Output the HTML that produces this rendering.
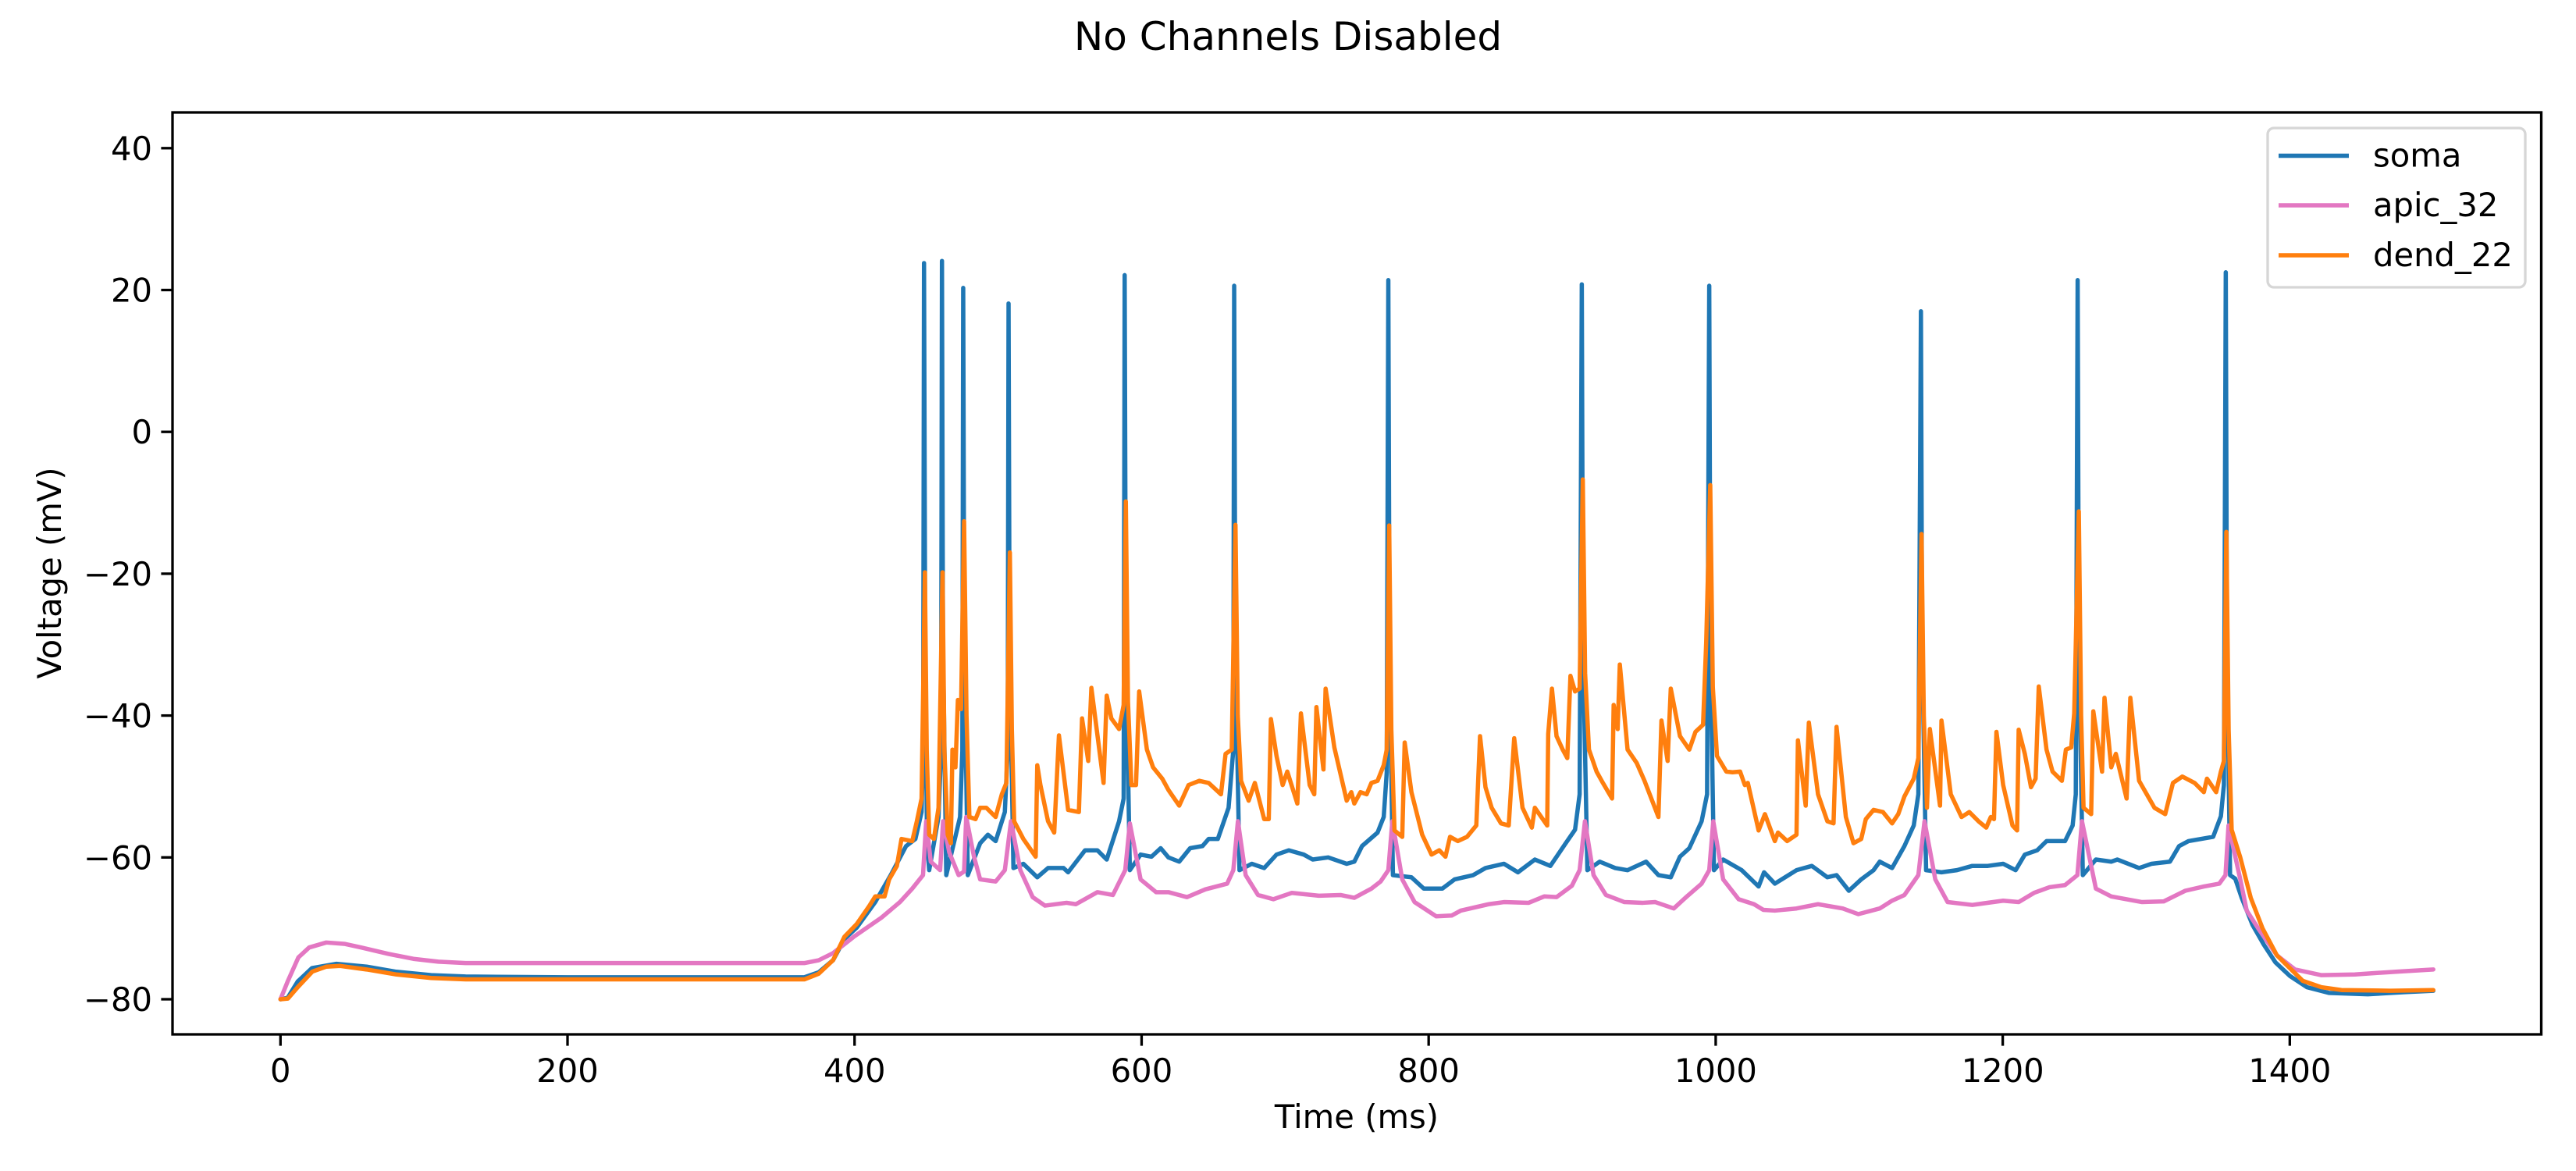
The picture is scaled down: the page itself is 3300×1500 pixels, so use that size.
<!DOCTYPE html>
<html>
<head>
<meta charset="utf-8">
<style>
  html, body { margin: 0; padding: 0; background: #ffffff; }
  svg { display: block; }
  text { font-family: "DejaVu Sans", "Liberation Sans", sans-serif; fill: #000; }
</style>
</head>
<body>
<svg id="chart" width="3300" height="1500" viewBox="0 0 3300 1500" xmlns="http://www.w3.org/2000/svg">
  <rect x="0" y="0" width="3300" height="1500" fill="#ffffff"/>
  <text x="1650" y="64" font-size="50" text-anchor="middle">No Channels Disabled</text>
  <g id="plot"></g>
  <g id="axes"></g>
  <text x="1738" y="1445" font-size="41.7" text-anchor="middle">Time (ms)</text>
  <text x="0" y="0" font-size="41.7" text-anchor="middle" transform="translate(78,734) rotate(-90)">Voltage (mV)</text>
  <g id="legend"></g>
</svg>
<script>
const xTicks = [0, 200, 400, 600, 800, 1000, 1200, 1400];
const yTicks = [-80, -60, -40, -20, 0, 20, 40];
const seriesNames = ["soma", "apic_32", "dend_22"];

const soma = [[0,-80],[5,-79.8],[12,-77.5],[22,-75.6],[39,-75],[60,-75.4],[80,-76.1],[105,-76.6],[129,-76.8],[200,-76.9],[365,-76.9],[375,-76.2],[385,-74.5],[393,-71.5],[401.5,-69.9],[414.4,-66.3],[425.2,-62.5],[435.9,-58.4],[442.4,-57.4],[446.7,-53.6],[447.8,-45],[448.4,23.8],[449.2,-30],[450.5,-58],[452,-61.8],[458.5,-54.3],[460.3,-45],[460.9,24.1],[461.6,-30],[463.9,-62.5],[473.5,-54.3],[475.1,-45],[475.7,20.3],[476.4,-30],[478.9,-62.5],[487.5,-58],[492.9,-56.8],[498.3,-57.7],[504.7,-53.6],[506.7,-45],[507.3,18.1],[508,-30],[510.7,-61.5],[517.6,-60.9],[527.3,-62.8],[534.8,-61.5],[545.6,-61.5],[548.8,-62.1],[560.6,-59],[569.2,-59],[575.7,-60.3],[584.3,-54.9],[587.5,-51.7],[588.2,22.1],[589,-30],[591.8,-61.8],[599.3,-59.6],[606.9,-59.9],[613.3,-58.7],[618.7,-60],[626.2,-60.6],[633.8,-58.7],[642.4,-58.4],[646.7,-57.4],[653.1,-57.4],[660.6,-53],[663.9,-44.8],[664.5,20.6],[665.3,-30],[668.2,-61.8],[676.8,-60.9],[685.4,-61.5],[694,-59.6],[702.6,-59],[713,-59.6],[719.2,-60.3],[730,-60],[742.9,-60.9],[748.2,-60.6],[753.6,-58.4],[764.4,-56.5],[768.7,-54.3],[770.8,-48],[771.9,21.4],[772.7,-30],[775.1,-62.5],[788,-62.8],[796.6,-64.4],[809.5,-64.4],[818.1,-63.1],[831,-62.5],[839.6,-61.5],[852.5,-60.9],[862.2,-62.1],[874,-60.3],[884.8,-61.2],[895.5,-58],[902,-56.1],[905.2,-51.1],[906.7,20.8],[907.5,-30],[910.6,-61.8],[919.2,-60.6],[930,-61.5],[938.6,-61.8],[951.5,-60.6],[960.1,-62.5],[968.7,-62.8],[975.1,-59.9],[981.6,-58.7],[990.2,-54.9],[994,-51.1],[995.5,20.6],[996.3,-30],[998.8,-61.8],[1005.2,-60.3],[1018.1,-61.8],[1029.9,-64.1],[1033.7,-62.1],[1041.2,-63.7],[1056.3,-61.8],[1067,-61.2],[1077.8,-62.8],[1084.2,-62.5],[1092.8,-64.7],[1101.4,-63.1],[1110,-61.8],[1114.3,-60.6],[1122.9,-61.5],[1131.5,-58.4],[1138,-55.5],[1141.2,-51.1],[1143,17],[1143.8,-30],[1146.6,-61.8],[1157.3,-62.1],[1168.1,-61.8],[1178.8,-61.2],[1189.6,-61.2],[1200.3,-60.9],[1209,-61.8],[1215.4,-59.6],[1224,-59],[1230.5,-57.7],[1243.4,-57.7],[1248.7,-55.5],[1250.9,-51.1],[1252.2,21.4],[1253,-30],[1255.8,-62.5],[1264.9,-60.3],[1275.6,-60.6],[1279.9,-60.3],[1295,-61.5],[1303.6,-60.9],[1316.5,-60.6],[1322.9,-58.4],[1329.4,-57.7],[1346.6,-57.1],[1352,-54.2],[1354.1,-49.8],[1355.4,22.5],[1356.2,-30],[1358.4,-62.5],[1362,-63],[1366.5,-65.7],[1374,-69.5],[1381.9,-72.3],[1390,-74.8],[1400,-76.7],[1412,-78.3],[1427.2,-79.1],[1454.4,-79.3],[1480,-79],[1500,-78.8]];

const apic = [[0,-80],[5,-77.5],[12.5,-74.1],[20,-72.7],[31.9,-72],[45,-72.2],[56.2,-72.7],[75,-73.6],[92.6,-74.3],[110,-74.7],[129,-74.9],[365,-74.9],[375,-74.5],[385,-73.5],[399.4,-71.2],[418.7,-68.5],[431.6,-66.3],[440.2,-64.4],[447.7,-62.5],[449.9,-54.9],[453.1,-60.6],[459.6,-61.8],[461.7,-54.9],[466,-59.3],[472.5,-62.5],[476.3,-62],[477.8,-54.3],[483.2,-59.9],[487.5,-63.1],[498.3,-63.4],[504.7,-61.8],[509,-54.9],[515.5,-61.8],[524.1,-65.6],[532.7,-66.8],[547.7,-66.4],[554.2,-66.6],[569.2,-64.9],[580,-65.3],[588.6,-61.8],[591.8,-55.2],[599.3,-63.1],[610.1,-64.9],[618.7,-64.9],[631.6,-65.6],[644.5,-64.5],[659.6,-63.7],[663.9,-61.8],[667.1,-54.9],[672.5,-62.5],[681.1,-65.3],[691.8,-65.9],[704.7,-65],[723.5,-65.4],[738.6,-65.3],[748.2,-65.7],[760.1,-64.4],[766.5,-63.4],[771.9,-61.8],[774.7,-54.9],[781.6,-63.1],[790.2,-66.3],[805.2,-68.3],[816,-68.2],[822.4,-67.5],[841.8,-66.6],[852.5,-66.3],[869.7,-66.4],[880.5,-65.5],[889.1,-65.6],[899.8,-64],[905.2,-61.8],[908.9,-54.9],[914.9,-62.5],[923.5,-65.3],[936.4,-66.3],[949.3,-66.4],[957.9,-66.3],[970.8,-67.2],[979.4,-65.6],[990.2,-63.7],[995.5,-61.8],[998.3,-54.9],[1005.2,-63.1],[1016,-65.9],[1026.7,-66.6],[1033.2,-67.4],[1041.2,-67.5],[1056.3,-67.2],[1071.3,-66.6],[1088.5,-67.2],[1099.3,-68],[1114.3,-67.2],[1122.9,-66.1],[1131.5,-65.3],[1141.2,-62.5],[1145.5,-54.9],[1153,-63.1],[1161.6,-66.3],[1178.8,-66.7],[1200.3,-66.1],[1211.1,-66.3],[1221.8,-65],[1232.6,-64.2],[1243.4,-63.9],[1252,-62.5],[1255.2,-54.9],[1264.9,-64.4],[1275.6,-65.5],[1297.1,-66.3],[1312.2,-66.2],[1327.2,-64.7],[1340.1,-64.1],[1350.9,-63.7],[1355.2,-62.5],[1357.3,-55.5],[1365.5,-63.1],[1370,-67.5],[1378.3,-70.1],[1391,-73.8],[1403.6,-75.8],[1421.8,-76.6],[1445.3,-76.5],[1475,-76.1],[1500,-75.8]];

const dend = [[0,-80],[5.2,-79.9],[12,-78.3],[22.2,-76.1],[32,-75.4],[41.6,-75.3],[60,-75.8],[80.5,-76.5],[105,-77],[129,-77.2],[365,-77.2],[375,-76.4],[385,-74.5],[392.9,-71.2],[401.5,-69.4],[410.1,-66.9],[414.4,-65.5],[420.9,-65.5],[424.1,-63.1],[429.5,-61.2],[432.7,-57.4],[440.2,-57.7],[443.4,-54.9],[446.7,-51.7],[449,-19.8],[450.3,-45],[452,-56.8],[455.3,-57.4],[458.5,-53],[461.3,-19.8],[462.6,-45],[464.9,-56.8],[467.1,-58],[468.2,-44.8],[470.3,-47.3],[472,-37.8],[474.2,-39.1],[476.3,-12.6],[478,-40],[480,-54.3],[484.3,-54.6],[487.5,-53],[491.8,-53],[498.3,-54.3],[502.6,-51.1],[505.8,-49.5],[508.2,-17],[509.6,-42],[511.2,-54.9],[517.6,-57.4],[526.2,-59.9],[527.3,-47],[529.5,-49.8],[534.8,-54.9],[539.1,-56.5],[542.4,-42.8],[548.8,-53.3],[556.3,-53.6],[558.5,-40.4],[562.8,-46.4],[565,-36.1],[573.5,-49.5],[575.7,-37.2],[578.9,-40.4],[584.3,-41.9],[587.5,-38.5],[589,-9.8],[590.5,-38],[592.9,-49.8],[596.1,-49.8],[598.3,-36.6],[603.7,-44.8],[608,-47.3],[614.4,-48.9],[618.7,-50.5],[626.2,-52.7],[632.7,-49.8],[640.2,-49.2],[646.7,-49.5],[655.3,-51.1],[658.5,-45.4],[662.8,-44.8],[665.4,-13.1],[667,-40],[669.3,-49.2],[674.6,-52],[678.9,-49.5],[685.4,-54.6],[688.6,-54.6],[690.1,-40.5],[694,-45.7],[698.3,-49.8],[701.5,-47.9],[708.5,-52.4],[711,-39.7],[717.1,-49.8],[720.3,-51.1],[721.8,-38.8],[726.7,-47.6],[728.2,-36.2],[734.3,-44.5],[742.9,-52],[746.1,-50.8],[748.2,-52.4],[752.5,-50.8],[756.8,-51.1],[760.1,-49.5],[764.4,-49.2],[768.7,-47],[770.8,-44.8],[772.5,-13.2],[774,-42],[776.2,-56.2],[781.6,-57.1],[783.3,-43.8],[788,-50.8],[795.5,-56.8],[802,-59.6],[807.4,-59],[811.7,-59.9],[814.9,-57.1],[820.3,-57.7],[826.7,-57.1],[833.2,-55.5],[835.8,-42.9],[839.6,-50.1],[843.9,-53],[850.4,-55.2],[855.8,-55.5],[859.6,-43.2],[865.4,-53],[871.9,-55.8],[874,-53],[882.6,-55.5],[883.3,-42.6],[885.9,-36.2],[889.1,-42.9],[893.4,-44.8],[896.6,-46],[898.8,-34.4],[902,-36.6],[905.2,-36.2],[907.4,-6.7],[909,-34],[911.7,-44.8],[917,-47.9],[921.4,-49.5],[927.8,-51.7],[928.9,-38.5],[931.7,-41.9],[933.2,-32.8],[938.6,-44.8],[945,-46.7],[950.4,-49.2],[960.1,-54.3],[962.2,-40.7],[966.5,-46.4],[968.7,-36.2],[975.1,-42.9],[981.6,-44.8],[985.9,-42.3],[991.2,-41.3],[993.4,-29.6],[996.2,-7.5],[998,-36],[1000.9,-45.7],[1007.4,-47.9],[1011.7,-48],[1017,-47.9],[1020.3,-49.8],[1022.4,-49.5],[1029.9,-56.2],[1034.3,-53.9],[1041.2,-57.7],[1043.4,-56.5],[1049.8,-57.7],[1056.3,-56.8],[1057.3,-43.5],[1062.7,-52.7],[1064.9,-41],[1071.3,-51.1],[1077.8,-54.9],[1082.1,-55.2],[1084.2,-41.6],[1090.7,-54.3],[1096,-58],[1101.4,-57.4],[1104.6,-54.6],[1110,-53.3],[1116.5,-53.6],[1122.9,-55.2],[1127.2,-53.9],[1131.5,-51.4],[1138,-48.9],[1141.2,-46],[1143.4,-14.4],[1145,-40],[1147.2,-53],[1149.2,-41.9],[1156.3,-52.7],[1157.3,-40.7],[1163.8,-51.1],[1171.3,-54.3],[1176.7,-53.6],[1183.1,-54.9],[1188.5,-55.8],[1191.7,-54.3],[1193.9,-54.6],[1195.6,-42.3],[1200.3,-49.8],[1206.8,-55.5],[1210,-56.2],[1211.1,-42],[1215.4,-45.4],[1219.7,-50.1],[1222.9,-48.9],[1225.1,-35.9],[1230.5,-44.8],[1234.7,-47.9],[1241.2,-49.2],[1244,-44.8],[1247.7,-44.5],[1249.8,-39.7],[1253,-11.2],[1254.6,-40],[1256.3,-53],[1261.6,-53.9],[1263.1,-39.4],[1269.2,-47.9],[1270.9,-37.5],[1275.6,-47.3],[1278.8,-45.4],[1286.3,-51.7],[1288.9,-37.5],[1295,-49.2],[1305.7,-53],[1313.2,-53.9],[1318.6,-49.5],[1325.1,-48.6],[1333.7,-49.5],[1340.1,-50.8],[1342.3,-48.9],[1348.7,-50.8],[1352,-47.9],[1354.1,-46.4],[1355.8,-14.1],[1357.4,-42],[1359.5,-56.1],[1365.5,-60],[1372.8,-65.7],[1381,-70],[1391,-73.8],[1409,-77.4],[1422,-78.3],[1436,-78.7],[1470,-78.8],[1500,-78.7]];

const seriesColors = ["#1f77b4", "#e377c2", "#ff7f0e"];

const X0 = 359.3, XS = 1.8386;
const YREF = 1280, YS = 9.085;
function xScale(t) { return X0 + t * XS; }
function yScale(v) { return YREF - (v + 80) * YS; }

const NS = "http://www.w3.org/2000/svg";
const plot = document.getElementById("plot");
const axes = document.getElementById("axes");
const legend = document.getElementById("legend");

const L = 221, R = 3255.5, T = 144, B = 1325;

const clip = document.createElementNS(NS, "clipPath");
clip.setAttribute("id", "clip");
const cr = document.createElementNS(NS, "rect");
cr.setAttribute("x", L); cr.setAttribute("y", T);
cr.setAttribute("width", R - L); cr.setAttribute("height", B - T);
clip.appendChild(cr);
plot.appendChild(clip);
plot.setAttribute("clip-path", "url(#clip)");

const allSeries = [soma, apic, dend];
const seriesKeys = ["soma-trace", "apic-32-trace", "dend-22-trace"];
allSeries.forEach(function (pts, i) {
  const p = document.createElementNS(NS, "polyline");
  p.setAttribute("points", pts.map(function (d) { return xScale(d[0]).toFixed(2) + "," + yScale(d[1]).toFixed(2); }).join(" "));
  p.setAttribute("fill", "none");
  p.setAttribute("stroke", seriesColors[i]);
  p.setAttribute("stroke-width", "5.5");
  p.setAttribute("stroke-linejoin", "round");
  p.setAttribute("stroke-linecap", "round");
  
  
  plot.appendChild(p);
});

const frame = document.createElementNS(NS, "rect");
frame.setAttribute("x", L); frame.setAttribute("y", T);
frame.setAttribute("width", R - L); frame.setAttribute("height", B - T);
frame.setAttribute("fill", "none");
frame.setAttribute("stroke", "#000");
frame.setAttribute("stroke-width", "3.3");


axes.appendChild(frame);

xTicks.forEach(function (t) {
  const x = xScale(t);
  const ln = document.createElementNS(NS, "line");
  ln.setAttribute("x1", x); ln.setAttribute("x2", x);
  ln.setAttribute("y1", B); ln.setAttribute("y2", B + 14.6);
  ln.setAttribute("stroke", "#000"); ln.setAttribute("stroke-width", "3.3");
  
  
  axes.appendChild(ln);
  const tx = document.createElementNS(NS, "text");
  tx.setAttribute("x", x); tx.setAttribute("y", B + 61);
  tx.setAttribute("font-size", "41.7");
  tx.setAttribute("text-anchor", "middle");
  tx.textContent = String(t);
  
  
  axes.appendChild(tx);
});

yTicks.forEach(function (v) {
  const y = yScale(v);
  const ln = document.createElementNS(NS, "line");
  ln.setAttribute("x1", L - 14.6); ln.setAttribute("x2", L);
  ln.setAttribute("y1", y); ln.setAttribute("y2", y);
  ln.setAttribute("stroke", "#000"); ln.setAttribute("stroke-width", "3.3");
  
  
  axes.appendChild(ln);
  const tx = document.createElementNS(NS, "text");
  tx.setAttribute("x", L - 26); tx.setAttribute("y", y + 15);
  tx.setAttribute("font-size", "41.7");
  tx.setAttribute("text-anchor", "end");
  tx.textContent = (v < 0 ? "\u2212" + Math.abs(v) : String(v));
  
  
  axes.appendChild(tx);
});

const box = document.createElementNS(NS, "rect");
box.setAttribute("x", 2905); box.setAttribute("y", 164);
box.setAttribute("width", 330); box.setAttribute("height", 204);
box.setAttribute("rx", 8);
box.setAttribute("fill", "#ffffff"); box.setAttribute("fill-opacity", "0.8");
box.setAttribute("stroke", "#d6d6d6"); box.setAttribute("stroke-width", "3.3");


legend.appendChild(box);
const legY = [199.5, 263, 327];
const legKeys = ["legend-entry-soma", "legend-entry-apic-32", "legend-entry-dend-22"];
seriesNames.forEach(function (n, i) {
  const g = document.createElementNS(NS, "g");
  
  
  const ln = document.createElementNS(NS, "line");
  ln.setAttribute("x1", 2919); ln.setAttribute("x2", 3009);
  ln.setAttribute("y1", legY[i]); ln.setAttribute("y2", legY[i]);
  ln.setAttribute("stroke", seriesColors[i]); ln.setAttribute("stroke-width", "5.5");
  
  
  g.appendChild(ln);
  const tx = document.createElementNS(NS, "text");
  tx.setAttribute("x", 3040); tx.setAttribute("y", legY[i] + 14);
  tx.setAttribute("font-size", "41.7");
  tx.textContent = n;
  
  
  g.appendChild(tx);
  legend.appendChild(g);
});
</script>
</body>
</html>
